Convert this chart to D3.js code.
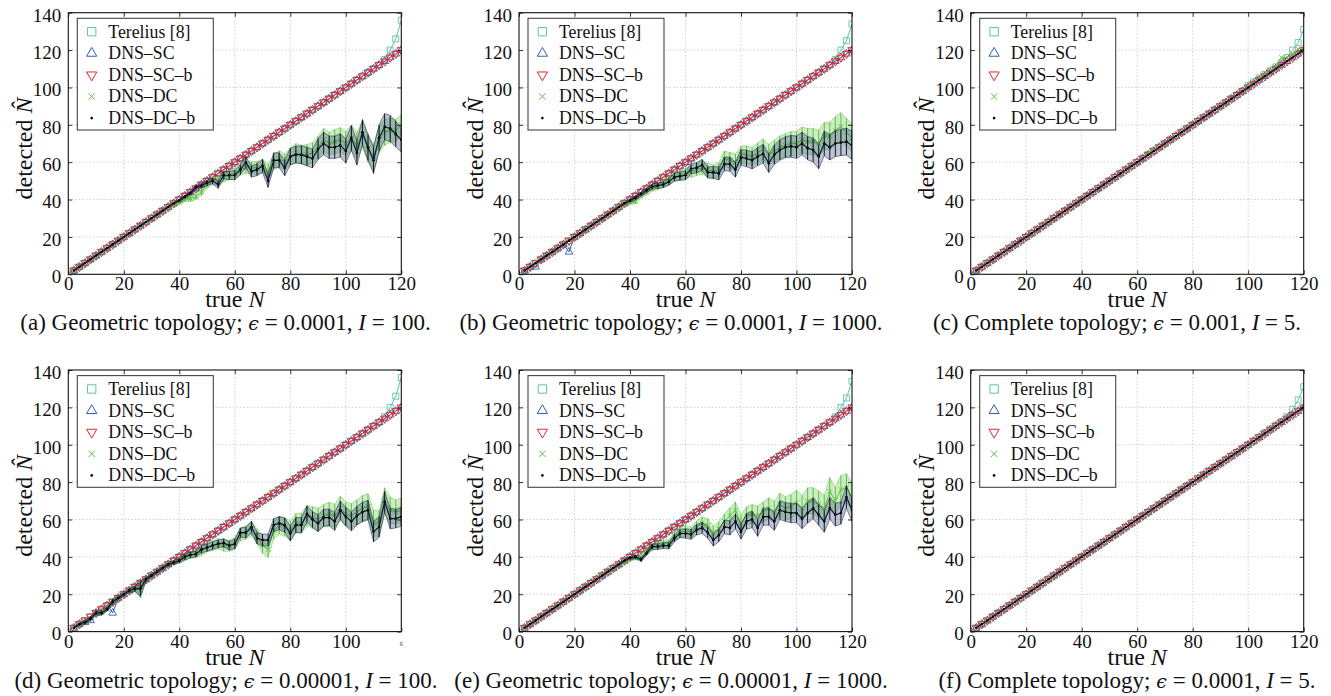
<!DOCTYPE html>
<html><head><meta charset="utf-8">
<script src="https://cdn.jsdelivr.net/npm/d3@7"></script>
<style>body{margin:0;background:#fff}svg{display:block}</style>
</head><body><svg id="c" width="1331" height="696"></svg>
<script>
const trueN = [2,4,6,8,10,12,14,16,18,20,
 22,24,26,28,30,32,34,36,38,40,
 42,44,46,48,50,52,54,56,58,60,
 62,64,66,68,70,72,74,76,78,80,
 82,84,86,88,90,92,94,96,98,100,
 102,104,106,108,110,112,114,116,118,120];
const xTicks = [0,20,40,60,80,100,120];
const yTicks = [0,20,40,60,80,100,120,140];
const legendLabels = ["Terelius [8]","DNS\u2013SC","DNS\u2013SC\u2013b","DNS\u2013DC","DNS\u2013DC\u2013b"];
const capLetters = ["a","b","c","d","e","f"];
const capTopo = ["Geometric","Geometric","Complete","Geometric","Geometric","Complete"];
const capEps = ["0.0001","0.0001","0.001","0.00001","0.00001","0.0001"];
const capI = ["100","1000","5","100","1000","5"];

// Terelius [8]
const teA = [2,4,6,8,10,12,14,16,18,20,22,24,26,28,30,32,34,36,38,40,42,44,46,48,50,52,54,56,58,60,
 62,64,66,68,70,72,74,76,78,80,82,84,86,88,90,92,94,96,98,100,102,104,106,108,110,112,115,120,126,136];
const teB = [2,4,6,8,10,12,14,16,18,20,22,24,26,28,30,32,34,36,38,40,42,44,46,48,50,52,54,56,58,60,
 62,64,66,68,70,72,74,76,78,80,82,84,86,88,90,92,94,96,98,100,102,104,106,108,110,112,115,120,125,134];
const teC = [2,4,6,8,10,12,14,16,18,20,22,24,26,28,30,32,34,36,38,40,42,44,46,48,50,52,54,56,58,60,
 62,64,66,68,70,72,74,76,78,80,82,84,86,88,90,92,94,96,98,101,103,105,107,109,111,113,116,120,124,131];
const teD = [2,4,6,8,10,12,14,16,18,20,22,24,26,28,30,32,34,36,38,40,42,44,46,48,50,52,54,56,58,60,
 62,64,66,68,70,72,74,76,78,80,82,84,86,88,90,92,94,96,98,100,102,104,106,108,110,112,115,120,126,136];
const teE = [2,4,6,8,10,12,14,16,18,20,22,24,26,28,30,32,34,36,38,40,42,44,46,48,50,52,54,56,58,60,
 62,64,66,68,70,72,74,76,78,80,82,84,86,88,90,92,94,96,98,100,102,104,106,108,110,112,115,120,125,134];
const teF = [2,4,6,8,10,12,14,16,18,20,22,24,26,28,30,32,34,36,38,40,42,44,46,48,50,52,54,56,58,60,
 62,64,66,68,70,72,74,76,78,80,82,84,86,88,90,92,94,96,98,100,102,104,106.5,108.5,110.5,112.5,115,119,124,131];

// DNS-SC (where it departs from the diagonal)
const scB = [2,4,4,8,10,12,14,16,12,20,22,24,26,28,30,32,34,36,38,40,42,44,46,48,50,52,54,56,58,60,
 62,64,66,68,70,72,74,76,78,80,82,84,86,88,90,92,94,96,98,100,102,104,106,108,110,112,114,116,118,120];
const scD = [2,4,5,6,10,12,14,10,18,20,22,24,26,28,30,32,34,36,38,40,42,44,46,48,50,52,54,56,58,60,
 62,64,66,68,70,72,74,76,78,80,82,84,86,88,90,92,94,96,98,100,102,104,106,108,110,112,114,116,118,120];

// DNS-DC-b mean / std
const dcbA = [2,4,6,8,10,12,14,16,18,20,
 22,24,26,28,30,32,34,36,38,39.5,
 41.5,43.5,46.5,47.5,49,50,48,53,53,53,
 56,60,55,56,58,50,61,61,57,63,
 64,64,63,62,67,70,68,68,69,66,
 73,65,76,68,61,73,79,78,75,72];
const dcbSdA = [0.3,0.3,0.3,0.3,0.3,0.3,0.3,0.3,0.3,0.3,
 0.3,0.3,0.3,0.3,0.3,0.4,0.4,0.4,0.5,0.6,
 0.8,1,1,1.2,1.5,1.5,2,2,2.2,2.5,
 2.5,3,3,3.2,3.5,3.5,4,4,4.2,4.5,
 4.5,4.8,5,5,5.5,6,6,6,6.2,6.5,
 6.5,6.5,6.8,7,7,7,7,7,6.8,6.5];
const dcA = [2,4,6,8,10,12,14,16,18,20,
 22,24,26,28,30,32,34,36,37.5,38.5,
 40,40.5,41.5,44,48,50,50,52,53,54,
 56,57,57,57,58,55,60,62,60,63,
 65,64,64,65,68,72,70,71,72,70,
 73,69,75,67,63,72,76,77,77,80];
const dcSdA = [0.4,0.4,0.4,0.4,0.4,0.4,0.4,0.4,0.4,0.4,
 0.4,0.4,0.4,0.5,0.5,0.5,0.6,0.7,0.8,1,
 1.2,1.5,1.5,1.8,2,2,2.2,2.5,2.5,2.8,
 3,3,3.2,3.5,3.5,4,4,4.2,4.5,4.5,
 5,5,5.5,5.5,6,6,6,6.5,6.5,6.5,
 7,7,7,7,7,7,7,6.5,6,5.5];

const dcbB = [2,4,6,8,10,12,14,16,18,20,
 22,24,26,28,30,32,34,36,38,39.5,
 41,43,45,47,47.5,48,49.5,52,52.5,53,
 56.5,57,58.5,54.5,54.5,54,59,59,56,62.5,
 62,61,63,64.5,59.5,64,66.5,68,68.5,68,
 70,67.5,66.5,63,70,68,70,70.5,71,69];
const dcbSdB = [0.3,0.3,0.3,0.3,0.3,0.3,0.3,0.3,0.3,0.3,
 0.3,0.3,0.3,0.3,0.3,0.4,0.4,0.5,0.6,0.8,
 1,1,1.2,1.4,1.5,1.6,1.8,2,2.2,2.5,
 2.6,2.8,3,3,3.2,3.5,3.6,3.8,4,4.2,
 4.4,4.6,4.8,5,5,5.2,5.4,5.6,5.8,6,
 6,6.2,6.4,6.5,6.6,6.8,7,7,7.2,7.5];
const dcB = [2,4,6,8,10,12,14,16,18,20,
 22,24,26,28,30,32,34,36,37.5,38.5,
 39,42,44,46,47,48.5,50,52,53,54,
 55,56,57,56,55,56,62,61,60,64,
 64,63,65,67,64,66,68,69,70,70,
 72,71,71,70,74,74,77,79,76,73];
const dcSdB = [0.4,0.4,0.4,0.4,0.4,0.4,0.4,0.4,0.4,0.4,
 0.4,0.4,0.4,0.4,0.5,0.5,0.6,0.7,0.8,1,
 1.2,1.3,1.5,1.6,1.8,2,2.2,2.4,2.6,2.8,
 3,3.2,3.4,3.5,3.6,3.8,4,4.2,4.4,4.6,
 4.8,5,5.2,5.4,5.6,5.8,6,6.2,6.4,6.6,
 6.8,7,7,7.2,7.2,7.4,7.5,7.5,7.5,7.5];

const dcC = [2,4,6,8,10,12,14,16,18,20,
 22,24,26,28,30,32,34,36,38,40,
 42,44,46,48,50,52,54,56,58,60,
 62,65,66.5,68,70,72,74,76,78,80,
 82,84,86,88,90,92,94,96,98,100.5,
 102,105,107,109,111,116,116,118,120.5,121];

const dcbD = [2,4,5,7,10,10,12,16,18,20,
 22,23,23,28,30,32,34,36,37,38,
 40,41,41.5,44,45,46,47,47.5,46,47,
 53,53,56,50,49,49,57,58,57,52.5,
 57,57,63,60,58,61,61,59,65,61.5,
 59,62,64,65,53.5,56,69.5,60.5,60.5,61.5];
const dcbSdD = [0.5,0.6,0.8,1,1,1.2,1,1.5,0.8,0.8,
 1,1.5,4,1,0.8,0.8,0.8,0.8,1,1.2,
 1.5,1.5,1.5,1.8,2,2,2,2.2,2.2,2.5,
 2.5,2.8,3,3,3.2,3.2,3.5,3.5,3.8,4,
 4,4,4.2,4.2,4.5,4.5,4.5,4.8,4.8,5,
 5,5,5.2,5.2,5.5,5.5,5.5,5.5,5,5];
const dcD = [2,4,5,7,10,10,12,16,18,20,
 22,23,22,28,30,32,34,36,37,38,
 39.5,41,41.5,43,45,46,47,46,46,47,
 52,53,55,51,46,44,54,57,56,54,
 58,58,62,61,60,62,63,62,66,63,
 62,64,66,67,58,58,70,65,64,65];
const dcSdD = [0.5,0.6,0.8,1,1,1.2,1,1.5,0.8,0.8,
 1,1.5,4,1,0.8,0.8,0.8,0.8,1,1.2,
 1.6,1.8,2,2.2,2.4,2.6,2.8,3,3,3.2,
 3.4,3.6,3.8,4,4.2,4.4,4.6,4.8,5,5,
 5.2,5.4,5.6,5.8,6,6,6.2,6.2,6.4,6.4,
 6.6,6.6,6.8,6.8,7,7,7,7,6.5,6.5];

const dcbE = [2,4,6,8,10,12,14,16,18,20,
 22,24,26,28,30,32,34,36,38,39.5,
 40,38.5,42,45.5,45.5,46,46,50,52.5,52.5,
 52,54.5,55.5,53,49,51.5,56,55.5,59,53.5,
 59,60,55.5,61.5,61.5,59,65,64,63.5,63.5,
 60.5,63.5,66,62.5,59,66,62.5,63.5,72,65];
const dcbSdE = [0.3,0.3,0.3,0.3,0.3,0.3,0.3,0.3,0.3,0.3,
 0.3,0.3,0.3,0.3,0.3,0.4,0.4,0.5,0.6,0.8,
 1,1,1.2,1.4,1.5,1.6,1.8,2,2.2,2.5,
 2.6,2.8,3,3,3.2,3.4,3.6,3.8,4,4,
 4.2,4.4,4.5,4.6,4.6,4.8,5,5,5.2,5.2,
 5.4,5.4,5.6,5.6,5.8,5.8,6,6,6,6];
const dcE = [2,4,6,8,10,12,14,16,18,20,
 22,24,26,28,30,32,34,36,37.5,39,
 39.5,40,43,45,46,47,47,51,53,54,
 53,56,58,57,53,55,59,62,65,58,
 62,63,62,64,66,64,68,66,67,69,
 66,70,70,68,66,75,70,76,77,72];
const dcSdE = [0.4,0.4,0.4,0.4,0.4,0.4,0.4,0.4,0.4,0.4,
 0.4,0.4,0.4,0.4,0.5,0.5,0.6,0.7,0.8,1,
 1.2,1.3,1.5,1.6,1.8,2,2.2,2.4,2.6,2.8,
 3,3.2,3.4,3.5,3.6,3.8,4,4.2,4.4,4.6,
 4.8,5,5.2,5.4,5.6,5.8,6,6.2,6.4,6.6,
 6.8,7,7,7.2,7.2,7.4,7.5,7.5,7.5,7.5];

const panels = [
 {te:teA, sc:trueN, scb:trueN, dc:dcA, dcSd:dcSdA, dcb:dcbA, dcbSd:dcbSdA},
 {te:teB, sc:scB,   scb:trueN, dc:dcB, dcSd:dcSdB, dcb:dcbB, dcbSd:dcbSdB},
 {te:teC, sc:trueN, scb:trueN, dc:dcC, dcSd:null,  dcb:trueN, dcbSd:null},
 {te:teD, sc:scD,   scb:trueN, dc:dcD, dcSd:dcSdD, dcb:dcbD, dcbSd:dcbSdD, hideLast:true},
 {te:teE, sc:trueN, scb:trueN, dc:dcE, dcSd:dcSdE, dcb:dcbE, dcbSd:dcbSdE},
 {te:teF, sc:trueN, scb:trueN, dc:trueN, dcSd:null, dcb:trueN, dcbSd:null}
];

// ---------- layout & style ----------
const colLeft = [68.3, 519, 970.7];
const rowTop = [12.7, 370];
const PW = 333, PH = 261.6;
const capCenter = [[225.5, 671, 1117], [226, 671, 1127]];
const SERIF = "'Liberation Serif','Times New Roman',serif";
const C = {te:"#5ec4a4", sc:"#2f5fb5", scb:"#e8272a", dc:"#5cc240", dcb:"#0c1735",
           dcFill:"#74cc5c", dcbFill:"#2a3868"};

const svg = d3.select("#c");
const defs = svg.append("defs");

panels.forEach((p, k) => {
  const col = k % 3, row = Math.floor(k / 3);
  const L = colLeft[col], T = rowTop[row];
  const x = d3.scaleLinear().domain([0, 120]).range([L, L + PW]);
  const y = d3.scaleLinear().domain([0, 140]).range([T + PH, T]);
  const g = svg.append("g");

  defs.append("clipPath").attr("id", "clip" + k)
    .append("rect").attr("x", L).attr("y", T).attr("width", PW).attr("height", PH);

  // grid
  const grid = g.append("g").attr("stroke", "#c4c4c4").attr("stroke-width", 0.8).attr("stroke-dasharray", "1.5,2");
  grid.selectAll(".gx").data(xTicks.slice(1, -1)).join("line")
    .attr("x1", d => x(d)).attr("x2", d => x(d)).attr("y1", T).attr("y2", T + PH);
  grid.selectAll(".gy").data(yTicks.slice(1, -1)).join("line")
    .attr("y1", d => y(d)).attr("y2", d => y(d)).attr("x1", L).attr("x2", L + PW);

  const data = g.append("g").attr("clip-path", `url(#clip${k})`);
  const line = d3.line().x((d, i) => x(trueN[i])).y(d => y(d));
  const band = (vals, sd) => d3.area().x((d, i) => x(trueN[i]))
      .y0((d, i) => y(vals[i] - sd[i])).y1((d, i) => y(vals[i] + sd[i]))(vals);

  const sym = (type, size) => d3.symbol().type(type).size(size)();

  // Terelius
  data.append("path").attr("d", line(p.te)).attr("fill", "none").attr("stroke", C.te).attr("stroke-width", 1);
  data.selectAll(".te").data(p.te).join("path")
    .attr("d", sym(d3.symbolSquare, 36))
    .attr("transform", (d, i) => `translate(${x(trueN[i])},${y(d)})`)
    .attr("fill", "none").attr("stroke", C.te).attr("stroke-width", 0.9);

  // DNS-SC
  data.append("path").attr("d", line(p.sc)).attr("fill", "none").attr("stroke", C.sc).attr("stroke-width", 1);
  data.selectAll(".sc").data(p.sc).join("path")
    .attr("d", sym(d3.symbolTriangle, 26))
    .attr("transform", (d, i) => `translate(${x(trueN[i])},${y(d)})`)
    .attr("fill", "none").attr("stroke", C.sc).attr("stroke-width", 0.9);

  // DNS-SC-b
  data.append("path").attr("d", line(p.scb)).attr("fill", "none").attr("stroke", C.scb).attr("stroke-width", 1);
  data.selectAll(".scb").data(p.scb).join("path")
    .attr("d", sym(d3.symbolTriangle, 30))
    .attr("transform", (d, i) => `translate(${x(trueN[i])},${y(d)}) rotate(180)`)
    .attr("fill", "none").attr("stroke", C.scb).attr("stroke-width", 1);

  // DNS-DC
  if (p.dcSd) {
    data.append("path").attr("d", band(p.dc, p.dcSd)).attr("fill", C.dcFill).attr("fill-opacity", 0.35)
      .attr("stroke", C.dc).attr("stroke-opacity", 0.6).attr("stroke-width", 0.7);
    data.selectAll(".dce").data(p.dc).join("line")
      .attr("x1", (d, i) => x(trueN[i])).attr("x2", (d, i) => x(trueN[i]))
      .attr("y1", (d, i) => y(d - p.dcSd[i])).attr("y2", (d, i) => y(d + p.dcSd[i]))
      .attr("stroke", C.dc).attr("stroke-width", 1);
  }
  data.append("path").attr("d", line(p.dc)).attr("fill", "none").attr("stroke", C.dc).attr("stroke-width", 1);
  data.selectAll(".dc").data(p.dc).join("path")
    .attr("d", sym(d3.symbolTimes, 16))
    .attr("transform", (d, i) => `translate(${x(trueN[i])},${y(d)})`)
    .attr("fill", "none").attr("stroke", C.dc).attr("stroke-width", 0.9);

  // DNS-DC-b
  if (p.dcbSd) {
    data.append("path").attr("d", band(p.dcb, p.dcbSd)).attr("fill", C.dcbFill).attr("fill-opacity", 0.3)
      .attr("stroke", C.dcb).attr("stroke-opacity", 0.7).attr("stroke-width", 0.7);
    data.selectAll(".dcbe").data(p.dcb).join("line")
      .attr("x1", (d, i) => x(trueN[i])).attr("x2", (d, i) => x(trueN[i]))
      .attr("y1", (d, i) => y(d - p.dcbSd[i])).attr("y2", (d, i) => y(d + p.dcbSd[i]))
      .attr("stroke", C.dcb).attr("stroke-width", 1);
  }
  data.append("path").attr("d", line(p.dcb)).attr("fill", "none").attr("stroke", C.dcb).attr("stroke-width", 1.2);
  data.selectAll(".dcb").data(p.dcb).join("circle")
    .attr("cx", (d, i) => x(trueN[i])).attr("cy", d => y(d)).attr("r", 1.3).attr("fill", "#000");

  // axes (ticks inward)
  const styleAxis = sel => {
    sel.select(".domain").remove();
    sel.selectAll(".tick line").attr("stroke", "#000").attr("stroke-width", 0.8);
    sel.selectAll("text").attr("font-family", SERIF).attr("font-size", 19).attr("fill", "#111");
  };
  g.append("g").attr("transform", `translate(0,${T + PH})`)
    .call(d3.axisBottom(x).tickValues(xTicks).tickSize(-4).tickPadding(2.5)
      .tickFormat(d => (p.hideLast && d === 120) ? "" : d))
    .call(styleAxis);
  g.append("g").attr("transform", `translate(0,${T})`)
    .call(d3.axisTop(x).tickValues(xTicks).tickSize(-4).tickFormat(""))
    .call(styleAxis);
  g.append("g").attr("transform", `translate(${L},0)`)
    .call(d3.axisLeft(y).tickValues(yTicks).tickSize(-4).tickPadding(7))
    .call(styleAxis)
    .call(s => s.selectAll("text").attr("dy", "0.44em"));
  g.append("g").attr("transform", `translate(${L + PW},0)`)
    .call(d3.axisRight(y).tickValues(yTicks).tickSize(-4).tickFormat(""))
    .call(styleAxis);

  // frame
  g.append("rect").attr("x", L).attr("y", T).attr("width", PW).attr("height", PH)
    .attr("fill", "none").attr("stroke", "#111").attr("stroke-width", 1.1);

  if (p.hideLast) {
    g.append("text").attr("x", x(120)).attr("y", T + PH + 13).attr("text-anchor", "middle")
      .attr("font-family", SERIF).attr("font-size", 7).attr("fill", "#555").text("g");
  }

  // axis labels
  const xl = g.append("text").attr("x", L + PW / 2).attr("y", T + PH + 33).attr("text-anchor", "middle")
    .attr("font-family", SERIF).attr("font-size", 24).attr("fill", "#111");
  xl.append("tspan").text("true ");
  xl.append("tspan").attr("font-style", "italic").text("N");

  const yl = g.append("text").attr("transform", `translate(${L - 36.5},${T + PH / 2 + 5}) rotate(-90)`)
    .attr("text-anchor", "middle").attr("font-family", SERIF).attr("font-size", 24).attr("fill", "#111");
  yl.append("tspan").text("detected ");
  yl.append("tspan").attr("font-style", "italic").text("N\u0302");

  // legend
  const lg = g.append("g").attr("transform", `translate(${L + 9},${T + 5.6})`);
  lg.append("rect").attr("width", 136).attr("height", 111.7).attr("fill", "#fff")
    .attr("stroke", "#444").attr("stroke-width", 1.1);
  const rowY = i => 13.4 + i * 21.6;
  const legSyms = [
    {t: d3.symbolSquare, s: 70, c: C.te, r: 0},
    {t: d3.symbolTriangle, s: 45, c: C.sc, r: 0},
    {t: d3.symbolTriangle, s: 45, c: C.scb, r: 180},
    {t: d3.symbolTimes, s: 28, c: C.dc, r: 0},
  ];
  legendLabels.forEach((lab, i) => {
    if (i < 4) {
      lg.append("path").attr("d", sym(legSyms[i].t, legSyms[i].s))
        .attr("transform", `translate(14.4,${rowY(i)}) rotate(${legSyms[i].r})`)
        .attr("fill", "none").attr("stroke", legSyms[i].c).attr("stroke-width", 1);
    } else {
      lg.append("circle").attr("cx", 14.4).attr("cy", rowY(i)).attr("r", 1.3).attr("fill", "#000");
    }
    lg.append("text").attr("x", 31).attr("y", rowY(i) + 6).attr("font-family", SERIF)
      .attr("font-size", 17.8).attr("fill", "#111").text(lab);
  });

  // caption
  const cap = g.append("text").attr("x", capCenter[row][col]).attr("y", T + PH + 56)
    .attr("text-anchor", "middle").attr("font-family", SERIF).attr("font-size", 23).attr("fill", "#111");
  cap.append("tspan").text(`(${capLetters[k]}) ${capTopo[k]} topology; `);
  cap.append("tspan").attr("font-style", "italic").attr("font-family", "'DejaVu Serif','Liberation Serif',serif")
    .attr("font-size", 19).text("\u03f5");
  cap.append("tspan").text(` = ${capEps[k]}, `);
  cap.append("tspan").attr("font-style", "italic").text("I");
  cap.append("tspan").text(` = ${capI[k]}.`);
});
</script>
</body></html>
